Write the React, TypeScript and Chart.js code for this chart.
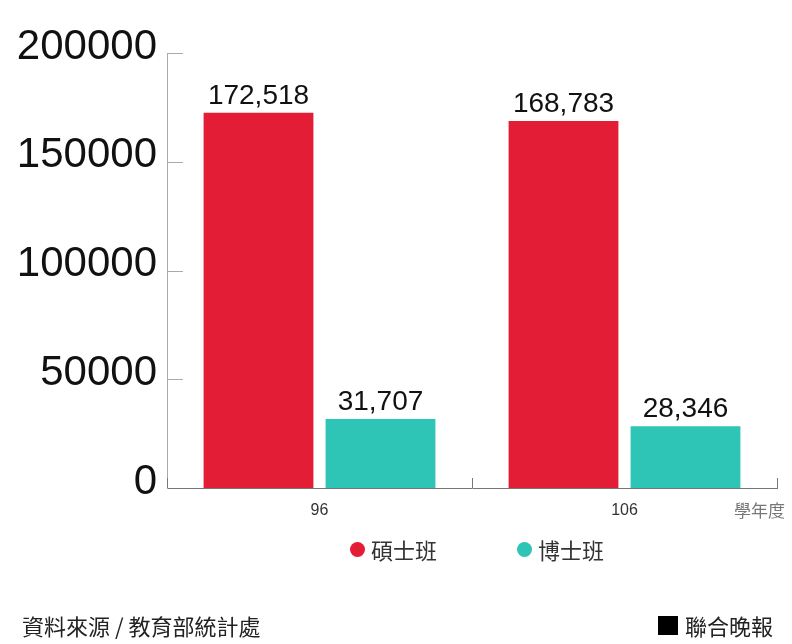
import { useEffect, useRef } from "react";
import { Chart, registerables } from "chart.js";

Chart.register(...registerables);

const years = ["96", "106"];
const masters = [172518, 168783];
const doctors = [31707, 28346];
const seriesNames = ["碩士班", "博士班"];
const colors = ["#E31D36", "#2EC4B6"];
const yMax = 200000;
const yStep = 50000;

const LATIN = '"Liberation Sans", Arial, sans-serif';
const CJK = '"Noto Sans CJK TC", "Noto Sans", sans-serif';

// value labels above each bar
const barLabels = {
  id: "barLabels",
  afterDatasetsDraw(chart: Chart) {
    const { ctx } = chart;
    ctx.save();
    ctx.font = `28px ${LATIN}`;
    ctx.fillStyle = "#111";
    ctx.textAlign = "center";
    ctx.textBaseline = "alphabetic";
    chart.data.datasets.forEach((ds, i) => {
      const meta = chart.getDatasetMeta(i);
      meta.data.forEach((bar: any, j) => {
        const v = ds.data[j] as number;
        ctx.fillText(v.toLocaleString("en-US"), bar.x, bar.y - 9);
      });
    });
    ctx.restore();
  },
};

// short inward ticks on y axis, upward ticks at category edges
const innerTicks = {
  id: "innerTicks",
  afterDraw(chart: Chart) {
    const { ctx, chartArea } = chart;
    const y = chart.scales.y;
    const x = chart.scales.x;
    ctx.save();
    ctx.lineWidth = 1;
    ctx.strokeStyle = "#aaa";
    y.ticks.forEach((t) => {
      if (t.value === 0) return;
      const py = Math.round(y.getPixelForValue(t.value)) + 0.5;
      ctx.beginPath();
      ctx.moveTo(chartArea.left, py);
      ctx.lineTo(chartArea.left + 16, py);
      ctx.stroke();
    });
    ctx.strokeStyle = "#777";
    const n = years.length;
    for (let i = 0; i <= n; i++) {
      const px = Math.round(x.getPixelForValue(i - 0.5)) + 0.5;
      ctx.beginPath();
      ctx.moveTo(px, chartArea.bottom);
      ctx.lineTo(px, chartArea.bottom - 10);
      ctx.stroke();
    }
    ctx.restore();
  },
};

export default function App() {
  const canvasRef = useRef<HTMLCanvasElement>(null);
  const chartRef = useRef<Chart | null>(null);

  useEffect(() => {
    if (!canvasRef.current) return;
    chartRef.current?.destroy();
    chartRef.current = new Chart(canvasRef.current, {
      type: "bar",
      data: {
        labels: years,
        datasets: [
          { label: seriesNames[0], data: masters, backgroundColor: colors[0] },
          { label: seriesNames[1], data: doctors, backgroundColor: colors[1] },
        ],
      },
      options: {
        responsive: true,
        maintainAspectRatio: false,
        animation: false,
        layout: { padding: { top: 53, right: 15, left: 0, bottom: 0 } },
        plugins: {
          legend: { display: false },
          tooltip: { enabled: false },
        },
        scales: {
          x: {
            grid: { display: false, drawTicks: false },
            border: { display: true, color: "#777", width: 1 },
            ticks: { font: { family: LATIN, size: 16 }, color: "#333", padding: 13 },
            afterFit: (s: any) => {
              s.height = 156;
            },
          },
          y: {
            min: 0,
            max: yMax,
            grid: { display: false, drawTicks: false },
            border: { display: true, color: "#aaa", width: 1 },
            ticks: {
              stepSize: yStep,
              font: { family: LATIN, size: 42 },
              color: "#111",
              padding: 10,
              labelOffset: -6,
              callback: (v: any) => String(v),
            },
            afterFit: (s: any) => {
              s.width = 167;
            },
          },
        },
      },
      plugins: [barLabels, innerTicks],
    });
    return () => {
      chartRef.current?.destroy();
      chartRef.current = null;
    };
  }, []);

  const text = { position: "absolute" as const, fontFamily: CJK, whiteSpace: "nowrap" as const, lineHeight: 1 };

  return (
    <div style={{ position: "fixed", left: 0, top: 0, width: 792, height: 644, background: "#fff" }}>
      <canvas ref={canvasRef} />
      <div style={{ ...text, right: 7, top: 501, fontSize: 17, color: "#777" }}>學年度</div>
      {seriesNames.map((name, i) => (
        <div key={name} style={{ ...text, left: [350, 517][i], top: 538, fontSize: 22, color: "#333", display: "flex", alignItems: "center" }}>
          <span style={{ width: 15, height: 15, borderRadius: "50%", background: colors[i], display: "inline-block", marginRight: 6 }} />
          {name}
        </div>
      ))}
      <div style={{ ...text, left: 22, top: 614, fontSize: 22, color: "#222" }}>資料來源 / 教育部統計處</div>
      <div style={{ ...text, left: 658, top: 614, fontSize: 22, color: "#222", display: "flex", alignItems: "center" }}>
        <span style={{ width: 20, height: 19, background: "#000", display: "inline-block", marginRight: 7 }} />
        聯合晚報
      </div>
    </div>
  );
}
